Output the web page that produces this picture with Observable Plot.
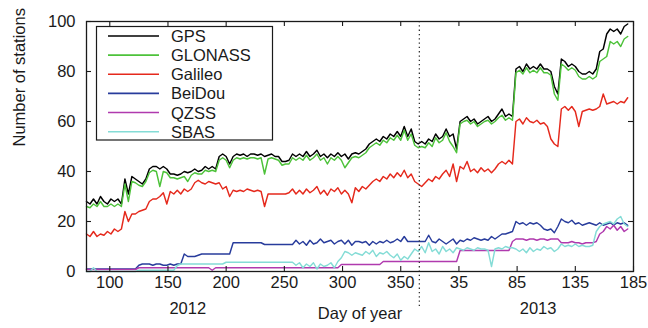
<!DOCTYPE html>
<html><head><meta charset="utf-8">
<script src="https://cdn.jsdelivr.net/npm/d3@7"></script>
<script src="https://cdn.jsdelivr.net/npm/@observablehq/plot@0.6"></script>
<style>
body{margin:0;background:#fff;}
#chart{width:648px;height:328px;}
</style></head><body><div id="chart"></div>
<script>
const seriesNames = ["GPS","GLONASS","Galileo","BeiDou","QZSS","SBAS"];
const seriesColors = ["#000000","#4dc23a","#e5291c","#283c9c","#b03aae","#84dcd6"];

// continuous day index: 2012 day-of-year, then 2013 day-of-year + 365
const days = [
80,83,86,89,92,95,98,101,104,107,
110,113,116,119,122,125,128,131,134,137,
140,143,146,149,152,155,158,161,164,167,
170,173,176,179,182,185,188,191,194,197,
200,203,206,209,212,215,218,221,224,227,
230,233,236,239,242,245,248,251,254,257,
260,263,266,269,272,275,278,281,284,287,
290,293,296,299,302,305,308,311,314,317,
320,323,326,329,332,335,338,341,344,347,
350,353,356,359,362,365,368,371,374,377,
380,383,386,389,392,395,398,401,404,407,
410,413,416,419,422,425,428,431,434,437,
440,443,446,449,452,455,458,461,464,467,
470,473,476,479,482,485,488,491,494,497,
500,503,506,509,512,515,518,521,524,527,
530,533,536,539,542,545];

const gps = [
28,27,29,27,30,28,27,29,28,29,
27,37,31,38,37,36,35,37,41,42,
42,41,42,41,39,39,38.5,39,40,39.5,
40,41,40,40.5,42,41,42,41,46,47,
46,43,46,47,46.5,47,46,47,47,46.5,
47,46,46.5,47,46,46,44,44,44.5,47,
46,47,46,48,46,47,48.5,46,47,45.5,
47,46,47.5,46,47,45,47,47.5,47,48,
49,51,52,53,52,54,53,55,54,56,
54,58,54,57,52,51,52,51,53,52,
55,53,54,57,54,55,49,60,61,62,
60,61,59,60,61,62,60,61,63,65,
62,63,62,81,82,80,83,81,82,81,
83,81,81,80,74,71,85,84,82,83,
82,80,79,79,80,79,81,88,89,95,
97,96,97,95,98,99];

const glonass = [
26,25.5,27,26,28,26,26,27,26,27,
26,35,28,36,35.5,34.5,34,36,39.5,40.5,
40,34,40,39.5,37.5,37.5,37,37.5,38,36,
38.5,39.5,39,39,40.5,40,40.5,40,44.5,45.5,
44.5,41.5,44.5,45.5,45,45.5,45,45.5,45.5,45,
45.5,39,45,45.5,45,44.5,42.5,43,43,45.5,
44.5,45.5,44.5,46.5,44.5,45.5,47,44.5,45.5,43,
45.5,44.5,46,44.5,41.5,43.5,45.5,46,45.5,46.5,
47.5,49.5,50.5,51.5,50.5,52.5,51.5,53.5,52.5,54.5,
52.5,56.5,52.5,55,50.5,49.5,50,49.5,51.5,50,
53.5,51.5,52.5,55.5,52,50,47.5,59,60,60.5,
59,60,58,59,60,60.5,59,60,61.5,62.5,
60.5,61.5,60.5,79.5,80.5,79,81.5,79.5,80.5,79.5,
81.5,79.5,79.5,78.5,71,68.5,83,82,80.5,81.5,
80.5,78,77,77,78,77,78,84,85,86,
92,91,92,90,93,94];

const galileo = [
15,14,16,14,15,14.5,16,15,17,16,
17,24,20,23,23,24,24.5,25,28,29,
29,30,31.5,27,32,31,32.5,31,33,32,
33,35.5,36.5,35.5,35,36,35.5,35,35.5,33,
34,30,32.5,32,32.5,32,33,32.5,32,32.5,
32,26,31,31,31,31,31,31,31.5,33,
31,32.5,31,33,31.5,32.5,34,31,32.5,30.5,
33,32,33.5,31,32.5,31,27.5,33.5,32,34,
33,34.5,36,37,36,38,37,39,37.5,39.5,
38,40.5,37.5,39,36,35,34,35.5,37,36,
38,37,39,40.5,38,43,36,42,41,44,
40,41,39.5,41.5,40,41,39.5,41,43,44,
43,44.5,43,60,61,59,61.5,60,59.5,60.5,
59,59.5,58,53,51,50,65,66,64.5,66,
64,58,64,64.5,65,64.5,65,66,71,67,
67.5,68,67,68,67.5,69.5];

const beidou = [
1,1,1,1,1,1,1,1,1,1,
1,1,1,1,1,2.5,3,3,3,2.5,
3,3,2.5,2.5,3,2.5,3,3,7,6,
6,6,6.5,7,7,7,7,7,7,7,
7,7,11.5,11.5,11.5,11.5,11.5,11.5,11.5,11.5,
11.5,10.8,10.8,10.8,10.8,10.8,10.8,10.8,10.8,10.8,
12.5,11,12,10.5,12.5,11,11.5,13,11.5,12,
12.5,11,12,12.5,11,12.5,10.5,12,12,11.5,
12,10.5,12,11,12,11.5,12.5,11.5,12,13,
12,14,12,12,12,12,12,12,14.5,12,
11.5,13,12,11,12,13,11,12.5,12,13,
12.5,13.5,13,12.5,13,12.5,14,13,14,15,
15,15.5,16,20,19,19.5,18.5,19.5,19,19.5,
18.5,17,16.5,17,15.5,18,21,20,19.5,20.5,
19,19.5,18.5,19,19.5,19,18.5,19.5,18.5,19,
19.5,18.5,19.5,19,19.5,18.5];

const qzss = [
0.8,0.8,0.8,0.8,0.8,0.8,0.8,0.8,0.8,0.8,
0.8,0.8,0.8,0.8,0.8,1.5,1.5,1.5,1.5,1.5,
1.5,1.5,1.5,1.5,1.5,1.5,1.5,1.5,1.5,1.5,
1.5,1.5,1.5,1.5,1.5,1.5,0.5,1.5,1.5,1.5,
1.5,1.5,1.5,1.5,1.5,1.5,1.5,1.5,1.5,1.5,
1.5,1.5,1.5,1.5,1.5,1.5,1.5,1.5,1.5,1.5,
1.5,1.5,1.5,1.5,1.5,1.5,1.5,1.5,1.5,1.5,
1.5,1.5,1.5,2.8,2.8,2.8,2.8,2.8,2.8,2.8,
2.8,2.8,2.8,2.8,2.8,4,4,4,4,4,
4,4,4,4,4,4,4,4,4,4,
4,4,4,4,4,4,4,8.4,8.4,8.4,
8.4,8.4,8.4,8.4,8.4,8.4,8.4,8.4,8.4,8.4,
8.4,8.4,12,13,13,13,12.5,13,13,12.5,
13,13,12.5,13,13,13,11.5,11.5,11.5,12,
11.5,11.5,11,11.5,11.5,11.5,12,15,16,18,
17,18.5,16.5,18,16,17];

const sbas = [
0,0,1.5,0,0,0,0,0,0,0,
0,0,0,0,0,0.5,0.5,0.5,0.5,0.5,
0.5,0.5,0.5,0.5,0.5,0.5,2.4,3,3,3,
3,3,3,3,3,3,3,3,3,3,
3.7,3.7,3.7,3.7,3.7,3.7,3.7,3.7,3.7,3.7,
3.7,3.7,3.7,3.7,3.7,3.7,3.7,3.7,3.7,3.7,
2.5,3.5,1.5,3,2,3.5,1,3,2,2.5,
3.5,1.5,4,5.5,8,7.5,6.5,7.5,7,6.5,
8,7,8.5,6,7.5,7,8,6.5,5.5,7,
4.5,6,5,7,9,8,10,7.5,11.5,8,
9,7,10,8,9,7.5,9.5,9,8.5,9.5,
9,8.5,9.5,9,9,8.5,2,9,9.5,9,
10,9.5,9.5,9,8,9,7.5,9.5,8,9,
8.5,10,9,9.5,8,9,11,10,10.5,10,
11,10,10.5,10,10,10.5,16,18,19,19.5,
20,19,21,22,19,18];

const xTickValues = [100,150,200,250,300,350,400,450,500,550];
const xTickLabels = ["100","150","200","250","300","350","35","85","135","185"];
const yTickValues = [0,20,40,60,80,100];
const yearBoundary = 366;
const yearLabels = ["2012","2013"];
const yearLabelDays = [167,468];

const seriesValues = [gps, glonass, galileo, beidou, qzss, sbas];
const rows = [];
seriesValues.forEach((vals, s) => {
  if (vals.length !== days.length) console.error(seriesNames[s] + " length " + vals.length + " vs " + days.length);
  vals.forEach((v, i) => rows.push({day: days[i], value: v, series: seriesNames[s]}));
});

const FONT = "'Liberation Sans', Arial, Helvetica, sans-serif";
const plot = Plot.plot({
  width: 648, height: 328,
  marginLeft: 86, marginRight: 15, marginTop: 21, marginBottom: 57,
  style: {fontFamily: FONT, fontSize: "16.5px", color: "#1a1a1a", background: "white", overflow: "visible"},
  x: {domain: [80, 550], ticks: xTickValues, tickFormat: d => xTickLabels[xTickValues.indexOf(d)], tickSize: 0, tickPadding: 5, label: null},
  y: {domain: [0, 100], ticks: yTickValues, tickSize: 0, tickPadding: 11, label: null},
  color: {domain: seriesNames, range: seriesColors},
  marks: [
    Plot.line(rows, {x: "day", y: "value", z: "series", stroke: "series", strokeWidth: 1.45}),
    Plot.ruleX([yearBoundary], {y1: 100, y2: -15, stroke: "#333", strokeWidth: 1.3, strokeDasharray: "1.3,3"}),
    Plot.frame({stroke: "#1a1a1a", strokeWidth: 1.3}),
    Plot.ruleX(xTickValues, {y1: 0, y2: 2, stroke: "#1a1a1a", strokeWidth: 1.1}),
    Plot.ruleX(xTickValues, {y1: 98, y2: 100, stroke: "#1a1a1a", strokeWidth: 1.1}),
    Plot.ruleY(yTickValues, {x1: 80, x2: 84.3, stroke: "#1a1a1a", strokeWidth: 1.1}),
    Plot.ruleY(yTickValues, {x1: 545.7, x2: 550, stroke: "#1a1a1a", strokeWidth: 1.1}),
    Plot.text(["Number of stations"], {frameAnchor: "left", dx: -67, rotate: -90, fontSize: 16.5, fill: "#1a1a1a"}),
    Plot.text(["Day of year"], {frameAnchor: "bottom", dy: 47, fontSize: 16.5, fill: "#1a1a1a"}),
    Plot.text(yearLabels, {x: yearLabelDays, frameAnchor: "bottom", dy: 42, fontSize: 16.5, fill: "#1a1a1a"})
  ]
});
document.getElementById("chart").appendChild(plot);

// legend box (upper left, inside frame)
const svg = d3.select(plot);
const lg = svg.append("g").attr("font-family", FONT).attr("font-size", "16.5px").attr("text-anchor", "start");
lg.append("rect").attr("x", 96.5).attr("y", 26.5).attr("width", 176).attr("height", 113.5)
  .attr("fill", "white").attr("stroke", "#1a1a1a").attr("stroke-width", 1.2);
seriesNames.forEach((name, i) => {
  const y = 36 + i * 19.14;
  lg.append("line").attr("x1", 108).attr("x2", 159).attr("y1", y).attr("y2", y)
    .attr("stroke", seriesColors[i]).attr("stroke-width", 1.6);
  lg.append("text").attr("x", 171).attr("y", y).attr("dy", "0.36em").attr("text-anchor", "start")
    .attr("fill", "#1a1a1a").text(name);
});
</script>
</body></html>
